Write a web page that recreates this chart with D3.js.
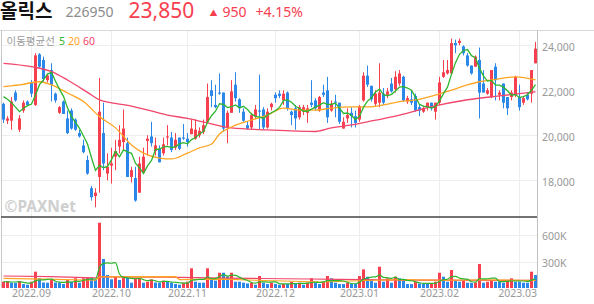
<!DOCTYPE html>
<html><head><meta charset="utf-8">
<script src="https://cdn.jsdelivr.net/npm/d3@7"></script>
<style>
body{margin:0;background:#fff;}
svg{display:block;font-family:"Noto Sans CJK KR","Noto Sans",sans-serif;}
</style></head><body>
<svg id="chart" width="594" height="304"></svg>
<script>
// daily candles, 2022-08-23 .. 2023-03-08 (index = trading day)
const opens = [21400,20650,20650,21900,20250,21100,21500,22350,21350,23600,23350,22450,22900,21850,21000,21500,20750,21100,20700,20100,
  19550,18900,17650,17300,18150,20100,18300,18650,19050,19500,19700,19650,18150,18100,17450,18350,19750,19950,19300,19400,
  19200,19900,19900,19450,19900,19900,19850,20050,19850,20000,20150,20600,22000,21350,21900,21900,20350,21000,22250,21600,
  21050,20450,20350,20850,21100,21150,20350,21250,21800,21850,21550,21900,21050,21200,20800,21050,21000,21450,21550,21100,
  21900,22000,21100,21500,21450,20300,20750,21000,20850,20700,21550,22650,22200,21400,21450,21850,21800,22300,22050,22300,
  22600,21500,21600,21750,21250,21050,21250,21450,21050,21450,22600,22750,22750,24100,24100,23950,23550,23100,23050,23350,
  22300,21850,21700,23050,21800,22300,21700,21700,21800,21700,21450,21800,21850,23200];
const highs = [21450,20850,21700,22000,20900,21550,21550,22450,23650,23650,23500,22750,23200,21900,21300,21550,21100,21200,20750,20250,
  19800,19100,17750,17650,22550,21450,19200,19450,19800,20450,21150,19900,18600,18600,19050,19450,20000,20600,19900,19550,
  19900,20450,20150,20100,19900,20500,20100,20700,20700,20350,20700,22300,22450,22250,22750,21900,21100,22450,22800,21650,
  21200,20600,21000,21350,22700,21250,21200,21450,21900,22000,22000,21950,21100,21350,21350,21350,21350,22450,21650,21750,
  22250,22600,21550,21800,21450,20800,21200,21250,21100,21350,22800,23100,22200,22000,23200,22100,22100,22550,22850,22900,
  22650,21750,22000,21850,21350,21300,21450,21450,21450,22600,23350,23350,24300,24250,24300,24000,23650,23100,23550,23900,
  22900,22100,22900,23200,22000,22300,21700,22000,22650,22250,21750,21900,22900,24150];
const lows = [20550,20500,20250,21500,20150,21000,21300,21700,21300,23000,22350,22350,21500,21450,20950,20950,20050,20250,20200,19900,
  19200,18250,17100,16800,17450,18450,18000,17850,18450,19200,19350,18150,17900,17050,17450,18300,19100,19500,19100,18800,
  19100,19550,19250,19350,19350,19800,19500,20050,19800,19900,20050,20550,21250,21200,21800,20150,19650,21000,21500,21000,
  20600,20250,20250,20750,20250,20250,20300,21100,21450,21650,21350,21100,20450,20250,20700,20900,20550,21250,21100,21050,
  21700,20550,21050,20800,20500,20300,20550,20350,20350,20600,21500,22150,21500,21300,21250,21350,21650,21900,21900,22200,
  21500,21400,21350,21050,20850,21000,21100,21100,20700,21350,22550,22700,22750,23650,24000,23550,23050,22700,23050,20750,
  21900,21800,21650,21550,21550,21200,20900,21550,21700,21100,21350,21550,21450,23200];
const closes = [20700,20750,21500,21550,20750,21450,21350,21850,23550,23050,22500,22650,22250,21550,21250,20950,20100,20300,20250,19950,
  19250,18300,17250,17450,21050,18750,18600,18750,19300,19800,20300,18150,18450,17100,18750,19050,19850,19650,19550,18800,
  19600,19950,19350,19800,19400,19850,19700,20300,20250,20200,20450,21700,21750,21250,21850,20300,21000,21950,21650,21200,
  20650,20300,20900,21150,21050,20350,21050,21400,21650,21750,21850,21200,20900,20750,21250,21250,21200,21350,21200,21700,
  21800,20800,21400,21450,20600,20600,20900,20850,20550,21300,22650,22250,21600,21850,21900,21450,21950,21950,22600,22750,
  21550,21650,21450,21100,21100,21200,21450,21200,21450,22350,22800,22900,24100,24000,24200,23650,23100,22750,23500,21900,
  21900,22000,22900,22450,21900,21450,21200,21900,22600,21250,21650,21600,22900,23850];
// volume, thousands of shares
const volumes = [71,79,60,58,79,45,37,71,185,110,62,60,90,62,60,45,90,71,110,60,
  110,120,115,90,739,328,147,98,128,90,136,128,60,110,115,60,71,98,62,60,
  83,71,60,45,37,60,71,223,71,60,60,223,110,83,173,173,128,173,71,71,
  60,52,60,37,136,60,45,60,45,37,45,45,71,45,60,37,60,110,60,45,
  71,136,110,60,45,45,60,45,45,136,211,128,98,60,241,71,110,60,128,110,
  83,45,45,71,52,45,45,52,71,173,128,71,204,83,71,83,60,58,62,272,
  60,71,90,71,71,60,83,110,71,71,60,60,185,147];

const ma5Head = [21720,21600,21450,21250];
const ma20Idx = [0,4,9,12,16,20,24,28,32,35,39,42,46,49,52,54,57,62,66,70,74,78,82,87,91,95,99,103,108,112,116,119,122,128,133];
const ma20Val = [22160,22240,22380,22240,21880,21500,20830,20330,19570,19210,18990,18950,19210,19440,19610,20060,20370,20680,20900,21210,
  21120,21120,21210,21260,21260,21350,21500,21570,21790,22010,22240,22380,22460,22600,22460];
const ma60Idx = [0,7,12,16,22,24,32,41,46,51,57,66,78,82,87,91,99,107,116,124,133];
const ma60Val = [23200,23050,22830,22460,21790,21570,21300,20900,20750,20550,20330,20240,20170,20330,20460,20600,20900,21270,21580,21750,21930];
const volMa5Head = [72,70,68,68];
const volMa20Idx = [0,10,23,24,43,44,55,65,80,90,100,110,120,133];
const volMa20Val = [110,100,88,125,128,95,100,85,68,85,95,88,92,85];
const volMa60Idx = [0,12,23,24,40,55,70,84,100,115,133];
const volMa60Val = [136,128,115,127,122,112,105,98,90,88,86];

const tickIdx = [7,27,46,68,89,109,129];
const tickLabels = ['2022.09','2022.10','2022.11','2022.12','2023.01','2023.02','2023.03'];
const priceTicks = [18000,20000,22000,24000];
const volTicks = [300,600];

const RED = '#f7404f', BLUE = '#2b87e8', GREEN = '#2db52d', ORANGE = '#ffa522', PINK = '#f2456a';

const svg = d3.select('#chart');
const L = 1, R = 537, T = 30, MID = 217, B = 288;

const x = d3.scaleBand().domain(d3.range(closes.length)).range([1.5, 537.5]);
const xc = i => x(i) + x.bandwidth() / 2;
const yP = d3.scaleLinear().domain([18000, 24000]).range([180.3, 45.3]);
const yV = d3.scaleLinear().domain([0, 600]).range([B, 235]);

function movingAvg(vals, n, head) {
  return vals.map((v, i) => i < n - 1 ? head[i] : d3.mean(vals.slice(i - n + 1, i + 1)));
}
const ma5 = movingAvg(closes, 5, ma5Head);
const volMa5 = movingAvg(volumes, 5, volMa5Head);

// header
svg.append('text').attr('x', 0).attr('y', 17.5).attr('font-size', 19).attr('font-weight', 'bold')
  .attr('fill', '#111').text('올릭스');
svg.append('text').attr('x', 65.5).attr('y', 16.7).attr('font-size', 14).attr('fill', '#8c8c8c')
  .attr('font-family', 'Noto Sans').text('226950');
svg.append('text').attr('x', 128.5).attr('y', 18.4).attr('font-size', 21).attr('fill', RED)
  .attr('font-family', 'Noto Sans').text('23,850');
svg.append('text').attr('x', 209.5).attr('y', 15.5).attr('font-size', 8).attr('fill', RED).text('▲');
svg.append('text').attr('x', 222.5).attr('y', 16.7).attr('font-size', 14).attr('fill', RED)
  .attr('font-family', 'Noto Sans').text('950');
svg.append('text').attr('x', 255.5).attr('y', 16.7).attr('font-size', 14).attr('fill', RED)
  .attr('font-family', 'Noto Sans').text('+4.15%');

// grid
const grid = svg.append('g').attr('stroke', '#eeeeee').attr('stroke-width', 1);
grid.selectAll('.vg').data(tickIdx).join('line')
  .attr('x1', d => xc(d)).attr('x2', d => xc(d)).attr('y1', T).attr('y2', B);
grid.selectAll('.pg').data(priceTicks).join('line')
  .attr('x1', L).attr('x2', R).attr('y1', d => Math.round(yP(d)) + 0.5).attr('y2', d => Math.round(yP(d)) + 0.5);
grid.selectAll('.vvg').data(volTicks).join('line')
  .attr('x1', L).attr('x2', R).attr('y1', d => Math.round(yV(d)) + 0.5).attr('y2', d => Math.round(yV(d)) + 0.5);

// watermark
svg.append('text').attr('x', 4.5).attr('y', 211.7).attr('font-size', 15.5).attr('font-weight', 'bold')
  .attr('fill', '#cfcfcf').attr('font-family', 'Noto Sans').text('©PAXNet');

// legend
svg.append('text').attr('x', 6.5).attr('y', 45).attr('font-size', 10.5).attr('fill', '#9a9a9a').text('이동평균선');
const lg = svg.append('text').attr('x', 59).attr('y', 45).attr('font-size', 10.5).attr('font-family', 'Noto Sans');
lg.append('tspan').attr('fill', GREEN).text('5');
lg.append('tspan').attr('dx', 3).attr('fill', ORANGE).text('20');
lg.append('tspan').attr('dx', 3).attr('fill', PINK).text('60');

// price panel
svg.append('clipPath').attr('id', 'pclip').append('rect').attr('x', L).attr('y', T).attr('width', R - L).attr('height', MID - T);
const pg = svg.append('g').attr('clip-path', 'url(#pclip)');
const idx = d3.range(closes.length);
const up = i => closes[i] >= opens[i];

pg.selectAll('.wick').data(idx).join('line')
  .attr('x1', xc).attr('x2', xc)
  .attr('y1', i => yP(highs[i])).attr('y2', i => yP(lows[i]))
  .attr('stroke', i => up(i) ? RED : BLUE).attr('stroke-width', 1);
pg.selectAll('.body').data(idx).join('rect')
  .attr('x', i => xc(i) - 1.5).attr('width', 3)
  .attr('y', i => yP(Math.max(opens[i], closes[i])))
  .attr('height', i => Math.max(1, Math.abs(yP(opens[i]) - yP(closes[i]))))
  .attr('fill', i => up(i) ? RED : BLUE);

const sparse = (ix, vals) => ix.map((k, j) => [k, vals[j]]);
const lineP = d3.line().x(d => xc(d[0])).y(d => yP(d[1])).curve(d3.curveMonotoneX);
pg.append('path').datum(sparse(ma60Idx, ma60Val)).attr('d', lineP)
  .attr('fill', 'none').attr('stroke', PINK).attr('stroke-width', 1.3);
pg.append('path').datum(sparse(ma20Idx, ma20Val)).attr('d', lineP)
  .attr('fill', 'none').attr('stroke', ORANGE).attr('stroke-width', 1.3);
pg.append('path').datum(idx.map(i => [i, ma5[i]])).attr('d', lineP.curve(d3.curveLinear))
  .attr('fill', 'none').attr('stroke', GREEN).attr('stroke-width', 1.3);

// volume panel
const vg = svg.append('g');
vg.selectAll('.vol').data(idx).join('rect')
  .attr('x', i => xc(i) - 1.5).attr('width', 3)
  .attr('y', i => yV(volumes[i])).attr('height', i => B - yV(volumes[i]))
  .attr('fill', i => (i === 0 || volumes[i] > volumes[i - 1]) ? RED : BLUE);
const lineV = d3.line().x(d => xc(d[0])).y(d => yV(d[1])).curve(d3.curveMonotoneX);
vg.append('path').datum(sparse(volMa60Idx, volMa60Val)).attr('d', lineV)
  .attr('fill', 'none').attr('stroke', PINK).attr('stroke-width', 1.2);
vg.append('path').datum(sparse(volMa20Idx, volMa20Val)).attr('d', lineV.curve(d3.curveLinear))
  .attr('fill', 'none').attr('stroke', ORANGE).attr('stroke-width', 1.2);
vg.append('path').datum(idx.map(i => [i, volMa5[i]])).attr('d', lineV.curve(d3.curveMonotoneX))
  .attr('fill', 'none').attr('stroke', GREEN).attr('stroke-width', 1.2);

// frame
svg.append('line').attr('x1', 0).attr('x2', 594).attr('y1', T + 0.5).attr('y2', T + 0.5).attr('stroke', '#d9d9d9');
svg.append('line').attr('x1', L + 0.5).attr('x2', L + 0.5).attr('y1', T).attr('y2', B).attr('stroke', '#c8c8c8');
svg.append('line').attr('x1', R + 0.5).attr('x2', R + 0.5).attr('y1', T).attr('y2', B).attr('stroke', '#c2c2c2');
svg.append('line').attr('x1', L).attr('x2', R).attr('y1', MID).attr('y2', MID).attr('stroke', '#444').attr('stroke-width', 1.5);

// axes labels
const axT = svg.append('g').attr('font-size', 10.5).attr('fill', '#999').attr('font-family', 'Noto Sans');
axT.selectAll('.pl').data(priceTicks).join('text')
  .attr('x', 542).attr('y', d => yP(d) + 5.3).text(d => d3.format(',')(d));
axT.selectAll('.vl').data(volTicks).join('text')
  .attr('x', 542).attr('y', d => yV(d) + 5.3).text(d => d + 'K');
axT.selectAll('.xl').data(tickIdx).join('text')
  .attr('x', (d, j) => j === tickIdx.length - 1 ? R : xc(d))
  .attr('text-anchor', (d, j) => j === tickIdx.length - 1 ? 'end' : 'middle')
  .attr('y', 297.3).text((d, j) => tickLabels[j]);
</script>
</body></html>
